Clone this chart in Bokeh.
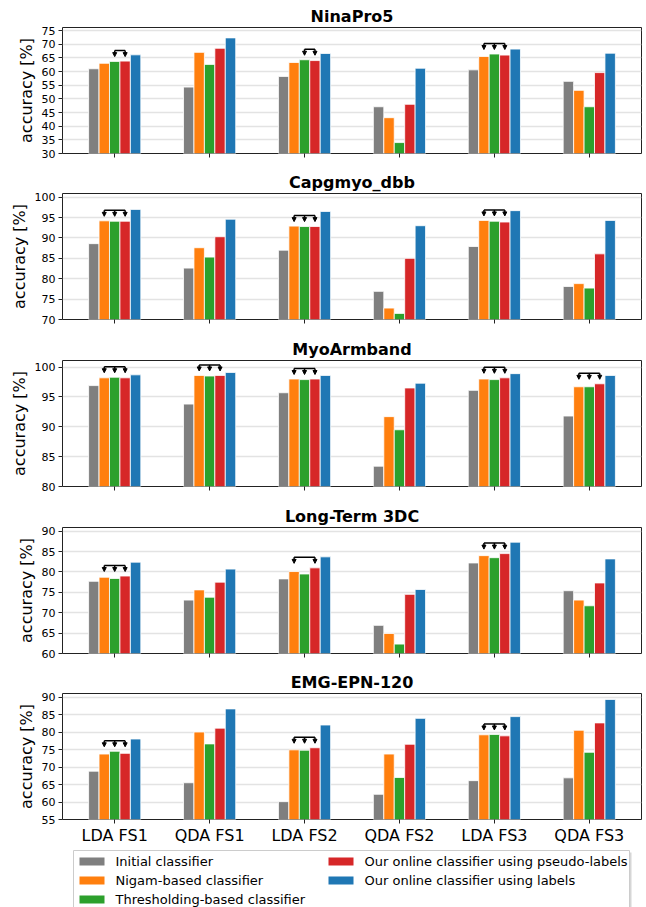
from bokeh.plotting import figure
from bokeh.layouts import column
from bokeh.models import (FixedTicker, ColumnDataSource, Range1d, Arrow, NormalHead)
from bokeh.core.properties import value
from bokeh.embed import file_html
from bokeh.resources import INLINE

FONT = "DejaVu Sans"

classifiers = ["LDA FS1", "QDA FS1", "LDA FS2", "QDA FS2", "LDA FS3", "QDA FS3"]
methods = ["Initial classifier", "Nigam-based classifier", "Thresholding-based classifier",
           "Our online classifier using pseudo-labels", "Our online classifier using labels"]
colors = ["#7f7f7f", "#ff7f0e", "#2ca02c", "#d62728", "#1f77b4"]

# NinaPro5
nina_initial = [61.0, 54.3, 58.2, 47.1, 60.6, 56.4]
nina_nigam = [63.0, 67.0, 63.3, 43.1, 65.5, 53.1]
nina_thresh = [63.7, 62.6, 64.3, 34.0, 66.4, 47.1]
nina_pseudo = [63.8, 68.5, 64.0, 48.0, 66.0, 59.6]
nina_labels = [66.1, 72.3, 66.6, 61.2, 68.2, 66.7]
# Capgmyo_dbb
capg_initial = [88.6, 82.6, 87.0, 76.9, 87.9, 78.1]
capg_nigam = [94.2, 87.6, 92.9, 72.8, 94.3, 78.8]
capg_thresh = [94.1, 85.3, 92.8, 71.5, 94.1, 77.7]
capg_pseudo = [94.1, 90.3, 92.8, 85.0, 93.9, 86.1]
capg_labels = [97.0, 94.6, 96.5, 93.0, 96.7, 94.3]
# MyoArmband
myo_initial = [96.9, 93.8, 95.7, 83.4, 96.1, 91.8]
myo_nigam = [98.2, 98.6, 98.0, 91.7, 98.0, 96.7]
myo_thresh = [98.3, 98.5, 97.9, 89.5, 97.9, 96.7]
myo_pseudo = [98.2, 98.6, 98.0, 96.5, 98.2, 97.2]
myo_labels = [98.7, 99.1, 98.6, 97.3, 98.9, 98.6]
# Long-Term 3DC
ltdc_initial = [77.7, 73.1, 78.3, 66.9, 82.2, 75.4]
ltdc_nigam = [78.7, 75.6, 80.1, 64.9, 84.0, 73.1]
ltdc_thresh = [78.4, 73.8, 79.5, 62.3, 83.5, 71.7]
ltdc_pseudo = [79.0, 77.5, 81.0, 74.5, 84.5, 77.3]
ltdc_labels = [82.4, 80.7, 83.7, 75.7, 87.3, 83.2]
# EMG-EPN-120
epn_initial = [68.8, 65.5, 60.1, 62.2, 66.1, 66.9]
epn_nigam = [73.7, 80.0, 74.9, 73.7, 79.2, 80.5]
epn_thresh = [74.5, 76.6, 74.8, 67.0, 79.3, 74.2]
epn_pseudo = [73.9, 81.1, 75.5, 76.5, 78.9, 82.6]
epn_labels = [78.0, 86.6, 82.0, 83.9, 84.4, 89.3]

titles = ["NinaPro5", "Capgmyo_dbb", "MyoArmband", "Long-Term 3DC", "EMG-EPN-120"]
y_limits = [(30, 76.1), (70, 100.9), (80, 101.1), (60, 90.9), (55, 91.0)]
y_ticks = [list(range(30, 80, 5)), list(range(70, 105, 5)), list(range(80, 105, 5)),
           list(range(60, 95, 5)), list(range(55, 95, 5))]

# brackets: (classifier index, method indices judged not different)
nina_brackets = [(0, [2, 3]), (2, [2, 3]), (4, [1, 2, 3])]
capg_brackets = [(0, [1, 2, 3]), (2, [1, 2, 3]), (4, [1, 2, 3])]
myo_brackets = [(0, [1, 2, 3]), (1, [1, 2, 3]), (2, [1, 2, 3]), (4, [1, 2, 3]), (5, [1, 2, 3])]
ltdc_brackets = [(0, [1, 2, 3]), (2, [1, 3]), (4, [1, 2, 3])]
epn_brackets = [(0, [1, 2, 3]), (2, [1, 2, 3]), (4, [1, 2, 3])]

datasets = [
    [nina_initial, nina_nigam, nina_thresh, nina_pseudo, nina_labels],
    [capg_initial, capg_nigam, capg_thresh, capg_pseudo, capg_labels],
    [myo_initial, myo_nigam, myo_thresh, myo_pseudo, myo_labels],
    [ltdc_initial, ltdc_nigam, ltdc_thresh, ltdc_pseudo, ltdc_labels],
    [epn_initial, epn_nigam, epn_thresh, epn_pseudo, epn_labels],
]
brackets = [nina_brackets, capg_brackets, myo_brackets, ltdc_brackets, epn_brackets]

BAR_W = 0.11
FRAME_L = 62
FRAME_W = 579
FRAME_R_BORDER = 5
FRAME_H = 126
tops = [27, 25, 25, 25, 25]
bottoms = [15, 16, 16, 15, 24]

figs = []
for k in range(5):
    ymin, ymax = y_limits[k]
    p = figure(output_backend="svg", toolbar_location=None,
               frame_width=FRAME_W, frame_height=FRAME_H,
               x_range=Range1d(-0.55, 5.55), y_range=Range1d(ymin, ymax),
               min_border_left=FRAME_L, min_border_right=FRAME_R_BORDER,
               min_border_top=tops[k], min_border_bottom=bottoms[k])
    p.title.text = titles[k]
    p.title.align = "center"
    p.title.text_font = FONT
    p.title.text_font_size = "16px"
    p.title.text_font_style = "bold"
    p.title.text_color = "black"
    p.title.standoff = 4
    p.outline_line_color = "#222222"
    p.outline_line_width = 1
    p.background_fill_color = "white"
    p.border_fill_color = "white"

    p.xgrid.grid_line_color = None
    p.ygrid.grid_line_color = "#e3e3e3"
    p.ygrid.grid_line_width = 1.5
    p.ygrid.ticker = FixedTicker(ticks=y_ticks[k])

    p.yaxis.ticker = FixedTicker(ticks=y_ticks[k])
    p.yaxis.axis_label = "accuracy [%]"
    p.yaxis.axis_label_text_font = FONT
    p.yaxis.axis_label_text_font_size = "16px"
    p.yaxis.axis_label_text_font_style = "normal"
    p.yaxis.axis_label_text_color = "black"
    p.yaxis.axis_label_standoff = 3
    p.yaxis.major_label_text_font = FONT
    p.yaxis.major_label_text_font_size = "11px"
    p.yaxis.major_label_text_color = "black"
    p.yaxis.major_label_standoff = 3
    p.yaxis.axis_line_color = None
    p.yaxis.major_tick_out = 4
    p.yaxis.major_tick_in = 0
    p.yaxis.major_tick_line_color = "#222222"
    p.yaxis.minor_tick_line_color = None

    p.xaxis.ticker = FixedTicker(ticks=list(range(len(classifiers))))
    p.xaxis.axis_line_color = None
    p.xaxis.major_tick_out = 4
    p.xaxis.major_tick_in = 0
    p.xaxis.major_tick_line_color = "#222222"
    p.xaxis.minor_tick_line_color = None
    p.xaxis.major_label_text_font = FONT
    p.xaxis.major_label_text_color = "black"
    if k < 4:
        p.xaxis.major_label_overrides = {i: "" for i in range(len(classifiers))}
        p.xaxis.major_label_text_font_size = "8px"
        p.xaxis.major_label_standoff = 0
    else:
        p.xaxis.major_label_overrides = {i: c for i, c in enumerate(classifiers)}
        p.xaxis.major_label_text_font_size = "16px"
        p.xaxis.major_label_standoff = 2

    vals = datasets[k]
    for m in range(5):
        xs = [g + (m - 2) * BAR_W for g in range(len(classifiers))]
        src = ColumnDataSource(dict(x=xs, top=vals[m]))
        p.vbar(x="x", top="top", bottom=ymin, width=BAR_W, source=src,
               fill_color=colors[m], line_color="white", line_width=0.8)

    ppu = FRAME_H / (ymax - ymin)
    for g, bars in brackets[k]:
        bx = [g + (b - 2) * BAR_W for b in bars]
        hmax = max(vals[b][g] for b in bars)
        y_line = hmax + 10.5 / ppu
        y_tip = hmax + 4.5 / ppu
        p.segment(x0=[bx[0]], y0=[y_line], x1=[bx[-1]], y1=[y_line],
                  line_color="black", line_width=1.5)
        for x in bx:
            p.add_layout(Arrow(x_start=x, y_start=y_line, x_end=x, y_end=y_tip,
                               line_color="black", line_width=1.5,
                               end=NormalHead(size=4, fill_color="black", line_color="black",
                                              line_width=1)))
    figs.append(p)

# legend strip: same frame as the panels, x in page pixels, y in pixels from strip bottom
LG_H = 64
lg = figure(output_backend="svg", toolbar_location=None,
            frame_width=FRAME_W, frame_height=LG_H,
            x_range=Range1d(FRAME_L, FRAME_L + FRAME_W), y_range=Range1d(0, LG_H),
            x_axis_location=None, y_axis_location=None,
            min_border_left=FRAME_L, min_border_right=FRAME_R_BORDER,
            min_border_top=0, min_border_bottom=0)
lg.title.visible = False
lg.outline_line_color = None
lg.grid.visible = False
lg.background_fill_color = "white"
lg.border_fill_color = "white"

box_l, box_r, box_b, box_t = 73, 629, 1, 61
lg.quad(left=[box_l + 2], right=[box_r + 2], bottom=[box_b - 2], top=[box_t - 2],
        fill_color="#d6d6d6", line_color=None)
lg.quad(left=[box_l], right=[box_r], bottom=[box_b], top=[box_t],
        fill_color="white", line_color="#cccccc", line_width=1)

col_glyph_x = [79, 328]
col_text_x = [115, 364]
row_y = [50, 31, 12]
gx, gy, tx, ty = [], [], [], []
for m in range(len(methods)):
    c = 0 if m < 3 else 1
    r = m if m < 3 else m - 3
    gx.append(col_glyph_x[c])
    gy.append(row_y[r])
    tx.append(col_text_x[c])
    ty.append(row_y[r])
lg.quad(left=gx, right=[x + 25 for x in gx], bottom=[y - 4 for y in gy], top=[y + 4 for y in gy],
        fill_color=colors, line_color=None)
lg.text(x=tx, y=ty, text=methods, text_font=value(FONT), text_font_size=value("13px"),
        text_baseline="middle", text_align="left", text_color="black")

layout = column(*figs, lg, spacing=0)
open("out.html", "w").write(file_html(layout, INLINE))
